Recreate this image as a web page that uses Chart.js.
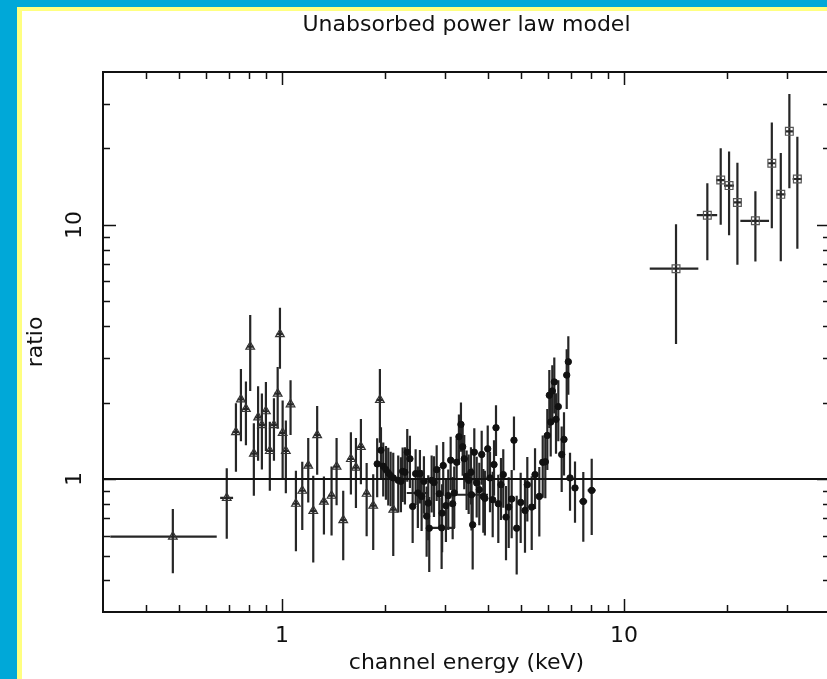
<!DOCTYPE html>
<html>
<head>
<meta charset="utf-8">
<script src="https://cdn.jsdelivr.net/npm/chart.js@4.4.0/dist/chart.umd.min.js"></script>
<style>
  html, body { margin: 0; padding: 0; width: 827px; height: 679px; overflow: hidden; background: #00a8d8; }
  #sheet { position: absolute; left: 17px; top: 7px; width: 900px; height: 700px; background: #fff;
           border-left: 5px solid #ffff80; border-top: 4px solid #ffff80; }
  #chart { position: absolute; left: 0; top: 0; }
</style>
</head>
<body>
<div id="sheet"></div>
<canvas id="chart" width="880" height="679"></canvas>
<script>
const xRange = [0.3, 40];
const yRange = [0.3, 40];
const xTickLabels = [1, 10];
const yTickLabels = [1, 10];
const unityRatio = 1;

// rows: [energy keV, half bin width, ratio, ratio error]
const lowRows = [
  [0.48, 0.165, 0.594, 0.168],
  [0.69, 0.030, 0.843, 0.26],
  [0.734, 0.016, 1.53, 0.46],
  [0.759, 0.016, 2.06, 0.65],
  [0.785, 0.017, 1.89, 0.53],
  [0.808, 0.017, 3.32, 1.10],
  [0.828, 0.018, 1.26, 0.40],
  [0.852, 0.018, 1.75, 0.57],
  [0.874, 0.019, 1.63, 0.54],
  [0.898, 0.019, 1.85, 0.56],
  [0.922, 0.020, 1.29, 0.39],
  [0.948, 0.020, 1.63, 0.45],
  [0.972, 0.021, 2.17, 0.59],
  [0.987, 0.021, 3.72, 1.00],
  [1.005, 0.022, 1.52, 0.52],
  [1.027, 0.022, 1.29, 0.41],
  [1.060, 0.023, 1.97, 0.48],
  [1.099, 0.024, 0.80, 0.28],
  [1.147, 0.025, 0.90, 0.27],
  [1.194, 0.026, 1.13, 0.32],
  [1.235, 0.027, 0.75, 0.28],
  [1.268, 0.027, 1.49, 0.45],
  [1.327, 0.029, 0.815, 0.21],
  [1.397, 0.030, 0.86, 0.26],
  [1.445, 0.031, 1.12, 0.33],
  [1.511, 0.033, 0.69, 0.21],
  [1.591, 0.034, 1.20, 0.33],
  [1.646, 0.036, 1.11, 0.34],
  [1.702, 0.037, 1.34, 0.385],
  [1.769, 0.038, 0.876, 0.28],
  [1.849, 0.040, 0.786, 0.26],
  [1.934, 0.042, 2.05, 0.66],
  [2.116, 0.046, 0.758, 0.26]
];

const midRows = [
  [1.899, 0.022, 1.148, 0.30],
  [1.948, 0.022, 1.30, 0.30],
  [1.978, 0.023, 1.124, 0.27],
  [2.014, 0.023, 1.09, 0.26],
  [2.046, 0.024, 1.058, 0.27],
  [2.079, 0.024, 1.032, 0.25],
  [2.116, 0.024, 1.011, 0.26],
  [2.188, 0.025, 0.989, 0.25],
  [2.228, 0.026, 0.98, 0.24],
  [2.254, 0.026, 1.073, 0.26],
  [2.289, 0.026, 1.064, 0.27],
  [2.325, 0.027, 1.276, 0.30],
  [2.367, 0.027, 1.202, 0.28],
  [2.411, 0.028, 0.781, 0.22],
  [2.46, 0.028, 1.051, 0.26],
  [2.497, 0.18, 0.882, 0.24],
  [2.532, 0.029, 1.051, 0.25],
  [2.561, 0.030, 0.855, 0.23],
  [2.601, 0.030, 0.98, 0.25],
  [2.649, 0.031, 0.715, 0.22],
  [2.678, 0.031, 0.805, 0.23],
  [2.696, 0.031, 0.641, 0.21],
  [2.74, 0.032, 0.989, 0.25],
  [2.783, 0.032, 0.97, 0.26],
  [2.834, 0.033, 1.09, 0.27],
  [2.884, 0.033, 0.876, 0.24],
  [2.93, 0.275, 0.643, 0.20],
  [2.94, 0.034, 0.735, 0.22],
  [2.962, 0.034, 1.131, 0.27],
  [3.016, 0.035, 0.786, 0.22],
  [3.064, 0.035, 0.861, 0.23],
  [3.114, 0.036, 1.187, 0.28],
  [3.156, 0.036, 0.80, 0.22],
  [3.19, 0.037, 0.882, 0.24],
  [3.242, 0.037, 1.165, 0.28],
  [3.292, 0.038, 1.468, 0.33],
  [3.337, 0.038, 1.642, 0.36],
  [3.376, 0.039, 1.341, 0.31],
  [3.412, 0.039, 1.202, 0.29],
  [3.467, 0.040, 1.026, 0.27],
  [3.515, 0.040, 0.989, 0.26],
  [3.583, 0.42, 0.868, 0.24],
  [3.57, 0.041, 1.064, 0.27],
  [3.611, 0.042, 0.661, 0.22],
  [3.651, 0.042, 1.276, 0.31],
  [3.71, 0.043, 0.966, 0.26],
  [3.776, 0.043, 0.909, 0.25],
  [3.837, 0.044, 1.25, 0.30],
  [3.879, 0.045, 0.855, 0.24],
  [3.92, 0.045, 0.84, 0.24],
  [3.996, 0.046, 1.316, 0.31],
  [4.058, 0.047, 1.011, 0.27],
  [4.132, 0.048, 0.83, 0.24],
  [4.169, 0.048, 1.141, 0.28],
  [4.225, 0.049, 1.593, 0.36],
  [4.291, 0.049, 0.80, 0.24],
  [4.369, 0.050, 0.951, 0.26],
  [4.437, 0.051, 1.042, 0.27],
  [4.519, 0.052, 0.709, 0.23],
  [4.602, 0.053, 0.776, 0.24],
  [4.695, 0.054, 0.835, 0.25],
  [4.768, 0.055, 1.423, 0.34],
  [4.856, 0.056, 0.641, 0.22],
  [4.988, 0.057, 0.81, 0.25],
  [5.135, 0.059, 0.753, 0.24],
  [5.216, 0.060, 0.951, 0.27],
  [5.373, 0.062, 0.776, 0.25],
  [5.494, 0.063, 1.042, 0.28],
  [5.655, 0.065, 0.855, 0.26],
  [5.786, 0.066, 1.165, 0.32],
  [5.888, 0.068, 1.17, 0.33],
  [5.968, 0.069, 1.486, 0.40],
  [6.049, 0.070, 2.138, 0.55],
  [6.106, 0.070, 1.677, 0.45],
  [6.172, 0.071, 2.223, 0.58],
  [6.255, 0.072, 2.413, 0.60],
  [6.327, 0.073, 1.719, 0.46],
  [6.426, 0.074, 1.929, 0.52],
  [6.574, 0.076, 1.25, 0.36],
  [6.677, 0.077, 1.433, 0.40],
  [6.80, 0.078, 2.566, 0.68],
  [6.874, 0.079, 2.896, 0.75],
  [6.953, 0.080, 1.011, 0.26],
  [7.19, 0.13, 0.923, 0.25],
  [7.603, 0.20, 0.817, 0.25],
  [8.046, 0.22, 0.903, 0.30]
];

const highRows = [
  [14.19, 2.30, 6.73, 3.33],
  [17.52, 1.20, 10.93, 3.67],
  [19.17, 0.58, 15.03, 5.0],
  [20.28, 0.68, 14.29, 5.18],
  [21.45, 0.58, 12.27, 5.3],
  [24.21, 2.33, 10.39, 3.2],
  [27.04, 0.68, 17.5, 7.8],
  [28.72, 0.90, 13.2, 6.0],
  [30.43, 0.76, 23.36, 9.4],
  [32.11, 1.00, 15.17, 7.1]
];

function toPoints(rows) {
  return rows.map(r => ({ x: r[0], y: r[2], dx: r[1], dy: r[3] }));
}

const errorBars = {
  id: 'errorBars',
  beforeDatasetsDraw(chart) {
    const { ctx, chartArea: a, scales: { x, y } } = chart;
    ctx.save();
    ctx.beginPath();
    ctx.rect(a.left, a.top, a.width, a.height);
    ctx.clip();
    ctx.strokeStyle = '#262626';
    ctx.lineWidth = 2.2;
    chart.data.datasets.forEach(ds => {
      if (!ds.errorBars) return;
      ds.data.forEach(p => {
        const px = x.getPixelForValue(p.x);
        const py = y.getPixelForValue(p.y);
        ctx.beginPath();
        ctx.moveTo(x.getPixelForValue(p.x - p.dx), py);
        ctx.lineTo(x.getPixelForValue(p.x + p.dx), py);
        ctx.moveTo(px, y.getPixelForValue(p.y + p.dy));
        ctx.lineTo(px, y.getPixelForValue(Math.max(p.y - p.dy, 0.01)));
        ctx.stroke();
      });
    });
    ctx.restore();
  }
};

function drawText(ctx, text, x, y, rot) {
  ctx.save();
  ctx.translate(x, y);
  ctx.rotate(rot);
  ctx.fillText(text, 0, 0);
  ctx.restore();
}

// PGPLOT style box: frame with inward ticks on all four sides
const pgFrame = {
  id: 'pgFrame',
  afterDraw(chart) {
    const { ctx, chartArea: a, scales: { x, y } } = chart;
    ctx.save();
    ctx.strokeStyle = '#111';
    ctx.lineWidth = 2;
    ctx.strokeRect(a.left, a.top, a.width, a.height);
    ctx.lineWidth = 1.5;
    ctx.beginPath();
    for (let d = 0.1; d < 1000; d *= 10) {
      for (let m = 1; m < 10; m++) {
        const v = +(m * d).toPrecision(3);
        const len = m === 1 ? 13 : 7;
        if (v > xRange[0] && v < xRange[1]) {
          const px = Math.round(x.getPixelForValue(v)) + 0.5;
          ctx.moveTo(px, a.bottom); ctx.lineTo(px, a.bottom - len);
          ctx.moveTo(px, a.top); ctx.lineTo(px, a.top + len);
        }
        if (v > yRange[0] && v < yRange[1]) {
          const py = Math.round(y.getPixelForValue(v)) + 0.5;
          ctx.moveTo(a.left, py); ctx.lineTo(a.left + len, py);
          ctx.moveTo(a.right, py); ctx.lineTo(a.right - len, py);
        }
      }
    }
    ctx.stroke();

    ctx.fillStyle = '#111';
    ctx.font = '22px "DejaVu Sans"';
    ctx.textAlign = 'center';
    ctx.textBaseline = 'middle';
    xTickLabels.forEach(v => drawText(ctx, String(v), x.getPixelForValue(v), 636, 0));
    yTickLabels.forEach(v => drawText(ctx, String(v), 75, y.getPixelForValue(v), -Math.PI / 2));
    const cx = (a.left + a.right) / 2;
    drawText(ctx, 'Unabsorbed power law model', cx, 25, 0);
    drawText(ctx, 'channel energy (keV)', cx, 663, 0);
    drawText(ctx, 'ratio', 36, (a.top + a.bottom) / 2, -Math.PI / 2);
    ctx.restore();
  }
};

new Chart(document.getElementById('chart'), {
  type: 'scatter',
  data: {
    datasets: [
      {
        type: 'line',
        data: xRange.map(e => ({ x: e, y: unityRatio })),
        borderColor: '#111',
        borderWidth: 2,
        pointRadius: 0
      },
      {
        data: toPoints(lowRows),
        pointStyle: 'triangle',
        pointRadius: 5,
        borderColor: '#333',
        backgroundColor: 'rgba(255,255,255,0)',
        borderWidth: 1.2,
        errorBars: true
      },
      {
        data: toPoints(midRows),
        pointStyle: 'circle',
        pointRadius: 3.2,
        borderColor: '#111',
        backgroundColor: '#111',
        borderWidth: 1,
        errorBars: true
      },
      {
        data: toPoints(highRows),
        pointStyle: 'rect',
        pointRadius: 5.5,
        borderColor: '#555',
        backgroundColor: 'rgba(255,255,255,0)',
        borderWidth: 1.2,
        errorBars: true
      }
    ]
  },
  options: {
    responsive: false,
    animation: false,
    layout: { padding: { left: 103, top: 72, right: 50, bottom: 67 } },
    plugins: { legend: { display: false }, tooltip: { enabled: false } },
    scales: {
      x: { type: 'logarithmic', min: xRange[0], max: xRange[1], display: false },
      y: { type: 'logarithmic', min: yRange[0], max: yRange[1], display: false }
    }
  },
  plugins: [errorBars, pgFrame]
});
</script>
</body>
</html>
